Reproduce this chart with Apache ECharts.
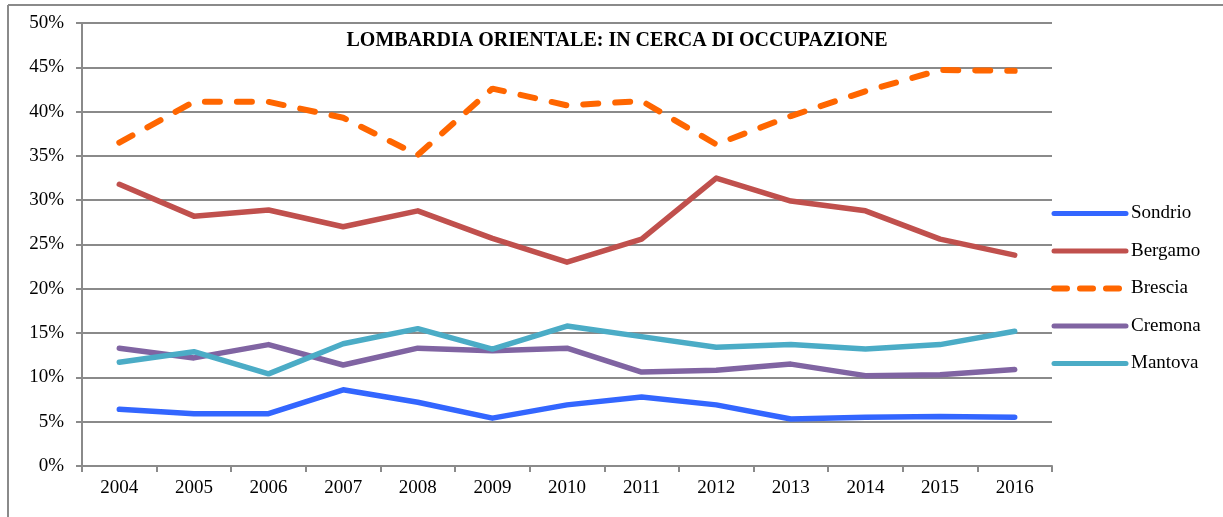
<!DOCTYPE html>
<html>
<head>
<meta charset="utf-8">
<script src="https://cdn.jsdelivr.net/npm/echarts@6/dist/echarts.min.js"></script>
<style>
html,body{margin:0;padding:0;background:#fff;}
#chart{width:1223px;height:517px;}
</style>
</head>
<body>
<div id="chart"></div>
<script>
var years = ['2004','2005','2006','2007','2008','2009','2010','2011','2012','2013','2014','2015','2016'];
var sondrio = [6.4, 5.9, 5.9, 8.6, 7.2, 5.4, 6.9, 7.8, 6.9, 5.3, 5.5, 5.6, 5.5];
var bergamo = [31.8, 28.2, 28.9, 27.0, 28.8, 25.7, 23.0, 25.6, 32.5, 29.9, 28.8, 25.6, 23.8];
var brescia = [36.5, 41.1, 41.1, 39.3, 35.1, 42.6, 40.7, 41.2, 36.3, 39.5, 42.3, 44.7, 44.6];
var cremona = [13.3, 12.2, 13.7, 11.4, 13.3, 13.0, 13.3, 10.6, 10.8, 11.5, 10.2, 10.3, 10.9];
var mantova = [11.7, 12.9, 10.4, 13.8, 15.5, 13.2, 15.8, 14.6, 13.4, 13.7, 13.2, 13.7, 15.2];
var seriesNames = ['Sondrio','Bergamo','Brescia','Cremona','Mantova'];
var titleText = 'LOMBARDIA ORIENTALE: IN CERCA DI OCCUPAZIONE';

var font = '"Liberation Serif", "DejaVu Serif", serif';
var gridColor = '#8a8a8a';

function mk(name, data, color, dashed) {
  return {
    name: name, type: 'line', data: data, symbol: 'none', smooth: false,
    lineStyle: dashed ? {color: color, width: 6, type: [15, 17], cap: 'round'} : {color: color, width: 5.5, cap: 'round', join: 'round'},
    itemStyle: {color: color},
    z: 3
  };
}

var legendData = seriesNames.map(function (n) {
  if (n === 'Brescia') return {name: n, lineStyle: {width: 6, type: [13, 13], cap: 'round'}};
  return {name: n};
});

var chart = echarts.init(document.getElementById('chart'), null, {renderer: 'canvas'});
chart.setOption({
  animation: false,
  backgroundColor: '#fff',
  title: {
    text: titleText, left: 612, top: 26, textAlign: 'center',
    textStyle: {fontFamily: font, fontWeight: 'bold', fontSize: 20, color: '#000'}
  },
  grid: {left: 82, right: 171, top: 23, bottom: 51, containLabel: false},
  legend: {
    orient: 'vertical', left: 1051, top: 204, padding: 0,
    itemWidth: 72, itemHeight: 19, itemGap: 18.5,
    itemStyle: {opacity: 0},
    lineStyle: {width: 5, cap: 'round'},
    textStyle: {fontFamily: font, fontSize: 19, color: '#000'},
    data: legendData
  },
  xAxis: {
    type: 'category', data: years, boundaryGap: true,
    axisLine: {lineStyle: {color: gridColor, width: 2}},
    axisTick: {show: true, length: 6, lineStyle: {color: gridColor, width: 2}},
    axisLabel: {fontFamily: font, fontSize: 19, color: '#000', margin: 13}
  },
  yAxis: {
    type: 'value', min: 0, max: 50, interval: 5,
    axisLine: {show: true, lineStyle: {color: gridColor, width: 2}},
    axisTick: {show: true, length: 6, lineStyle: {color: gridColor, width: 2}},
    splitLine: {show: true, lineStyle: {color: gridColor, width: 2}},
    axisLabel: {fontFamily: font, fontSize: 19, color: '#000', margin: 18, formatter: '{value}%'}
  },
  graphic: [
    {type: 'line', shape: {x1: 8, y1: 5, x2: 1223, y2: 5}, style: {stroke: gridColor, lineWidth: 2}},
    {type: 'line', shape: {x1: 8, y1: 5, x2: 8, y2: 517}, style: {stroke: gridColor, lineWidth: 2}}
  ],
  series: [
    mk('Sondrio', sondrio, '#3366FF', false),
    mk('Bergamo', bergamo, '#C0504D', false),
    mk('Brescia', brescia, '#FF6600', true),
    mk('Cremona', cremona, '#8064A2', false),
    mk('Mantova', mantova, '#4BACC6', false)
  ]
});
</script>
</body>
</html>
